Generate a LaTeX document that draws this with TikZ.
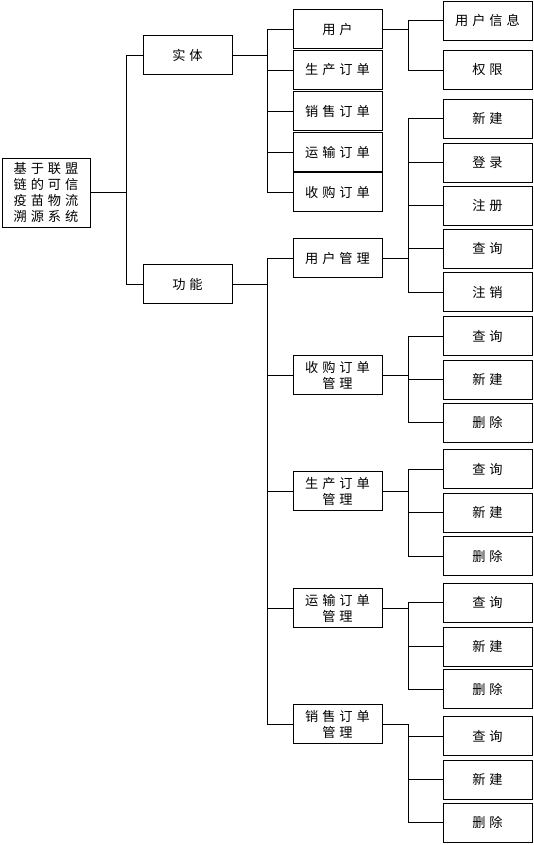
\documentclass[tikz,border=0pt]{standalone}
\usepackage{fontspec}
\newfontfamily\cjk[LetterSpace=30]{Noto Sans CJK SC}
\tikzset{
  box/.style={draw, line width=0.9pt, minimum width=89pt, minimum height=39pt, inner sep=0pt, align=center, font=\cjk\fontsize{13.2}{16}\selectfont},
  conn/.style={line width=0.9pt},
}
\begin{document}
\begin{tikzpicture}[x=1pt,y=-1pt]
\useasboundingbox (0,0) rectangle (534,845);
% root
\node[box, minimum width=88pt, minimum height=69pt] (root) at (46,192.5) {基于联盟\\链的可信\\疫苗物流\\溯源系统};
% level 1
\node[box] (e) at (187.5,55) {实体};
\node[box] (f) at (187.5,284) {功能};
% entity children
\node[box] (u) at (337.5,29) {用户};
\node[box] (sc) at (337.5,70) {生产订单};
\node[box] (xs) at (337.5,111) {销售订单};
\node[box] (ys) at (337.5,152) {运输订单};
\node[box] (sg) at (337.5,192) {收购订单};
% function children
\node[box] (um) at (337.5,258) {用户管理};
\node[box] (sgm) at (337.5,375) {收购订单\\管理};
\node[box] (scm) at (337.5,491) {生产订单\\管理};
\node[box] (ysm) at (337.5,608) {运输订单\\管理};
\node[box] (xsm) at (337.5,724) {销售订单\\管理};
% leaves
\node[box] (u1) at (487.5,20.5) {用户信息};
\node[box] (u2) at (487.5,70) {权限};
\node[box] (um1) at (487.5,118.5) {新建};
\node[box] (um2) at (487.5,162.5) {登录};
\node[box] (um3) at (487.5,205.5) {注册};
\node[box] (um4) at (487.5,248.5) {查询};
\node[box] (um5) at (487.5,292) {注销};
\node[box] (sg1) at (487.5,336) {查询};
\node[box] (sg2) at (487.5,379.5) {新建};
\node[box] (sg3) at (487.5,422.5) {删除};
\node[box] (sc1) at (487.5,469) {查询};
\node[box] (sc2) at (487.5,512.5) {新建};
\node[box] (sc3) at (487.5,556) {删除};
\node[box] (ys1) at (487.5,602.5) {查询};
\node[box] (ys2) at (487.5,646.5) {新建};
\node[box] (ys3) at (487.5,689) {删除};
\node[box] (xs1) at (487.5,736) {查询};
\node[box] (xs2) at (487.5,779.5) {新建};
\node[box] (xs3) at (487.5,822.5) {删除};
% connectors
\foreach \c in {e,f} \draw[conn] (root.east) -- ++(36,0) |- (\c.west);
\foreach \c in {u,sc,xs,ys,sg} \draw[conn] (e.east) -- ++(35,0) |- (\c.west);
\foreach \c in {um,sgm,scm,ysm,xsm} \draw[conn] (f.east) -- ++(35,0) |- (\c.west);
\foreach \c in {u1,u2} \draw[conn] (u.east) -- ++(26,0) |- (\c.west);
\foreach \c in {um1,um2,um3,um4,um5} \draw[conn] (um.east) -- ++(26,0) |- (\c.west);
\foreach \c in {sg1,sg2,sg3} \draw[conn] (sgm.east) -- ++(26,0) |- (\c.west);
\foreach \c in {sc1,sc2,sc3} \draw[conn] (scm.east) -- ++(26,0) |- (\c.west);
\foreach \c in {ys1,ys2,ys3} \draw[conn] (ysm.east) -- ++(26,0) |- (\c.west);
\foreach \c in {xs1,xs2,xs3} \draw[conn] (xsm.east) -- ++(26,0) |- (\c.west);
\end{tikzpicture}
\end{document}
